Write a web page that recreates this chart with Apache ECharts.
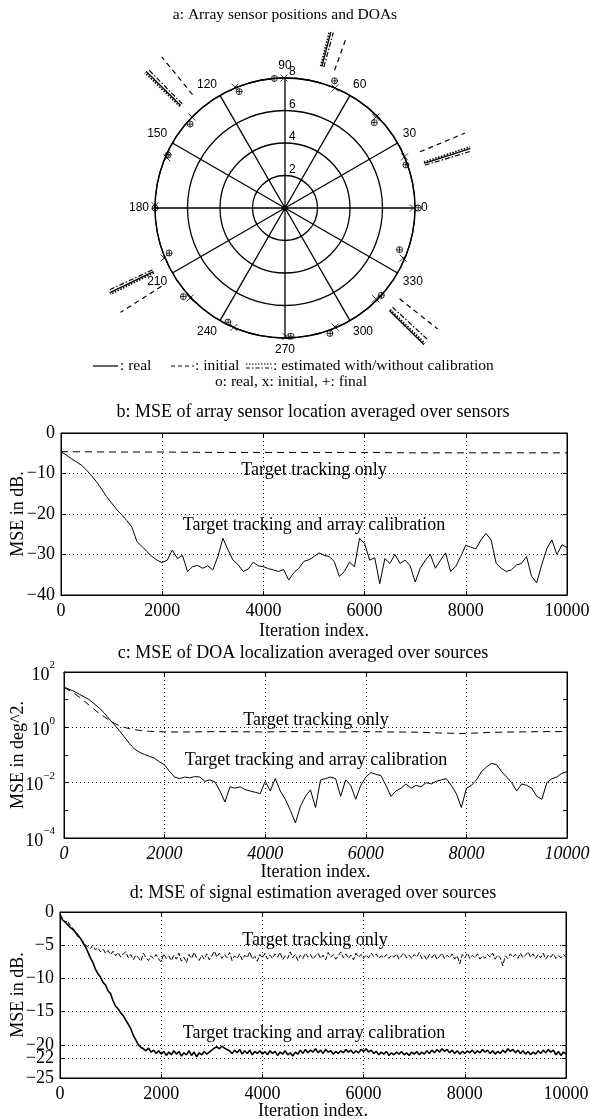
<!DOCTYPE html>
<html><head><meta charset="utf-8">
<script src="https://cdn.jsdelivr.net/npm/echarts@6/dist/echarts.min.js"></script>
<style>html,body{margin:0;padding:0;background:#fff}#c{width:590px;height:1119px}</style>
</head><body><div id="c"></div><script>
// ---------------- data ----------------
// a: sensors (angle in degrees, radius)
const sensorAngleReal  = [94.7, 68.7, 43.7, 19.6, 0, 340, 317.8, 289.7, 272.7, 243.4, 221.1, 201.2, 180, 155.6, 138.5, 111.5];
const sensorRadiusReal = [8.0, 8.4, 7.6, 7.9, 8.2, 7.5, 8.0, 8.2, 7.9, 7.85, 8.3, 7.65, 8.0, 7.9, 7.8, 7.7];
const sensorAngleInit  = [90.4, 67.4, 45.0, 23.2, 0, 337, 315, 292.8, 270.4, 246.8, 223.5, 202.5, 179, 157, 135.6, 112.5];
const sensorRadiusInit = [8.0, 8.0, 7.9, 8.0, 7.9, 7.9, 7.9, 7.95, 7.9, 8.0, 8.05, 8.05, 8.0, 7.9, 8.0, 8.05];
const sensorAngleFinal  = [94.8, 68.6, 43.8, 19.7, 0.1, 339.9, 317.9, 289.8, 272.6, 243.5, 221.0, 201.3, 180.1, 155.5, 138.6, 111.4];
const sensorRadiusFinal = [8.0, 8.4, 7.6, 7.9, 8.2, 7.5, 8.0, 8.2, 7.9, 7.85, 8.3, 7.65, 8.0, 7.9, 7.8, 7.7];
// a: DOAs (degrees)
const doaReal     = [75.4, 17.8, 315.5, 205.8, 135.5];
const doaInit     = [70.2, 22.6, 321.6, 212.4, 129.2];
const doaEstCal   = [75.9, 18.3, 316.0, 206.3, 136.0];
const doaEstNoCal = [74.6, 17.0, 317.3, 205.0, 134.6];
const doaRadiusInner = [9, 9, 9, 9, 9];
const doaRadiusOuter = [11.2, 12, 12, 12, 12];

// b: MSE of array sensor location (dB), every 100 iterations
const bStep = 100;
const bCalib = [-4.6,-5.4,-6.3,-7.1,-7.9,-9.1,-10.5,-12.0,-13.8,-15.7,
-17.3,-18.9,-20.2,-21.6,-23.2,-26.8,-28.0,-29.3,-30.5,-31.4,
-32.0,-31.4,-28.9,-31.0,-30.2,-34.2,-33.0,-32.7,-33.4,-32.8,
-33.8,-30.5,-26.0,-28.8,-31.4,-32.5,-34.2,-33.6,-31.9,-32.8,
-33.0,-33.5,-33.8,-34.2,-33.7,-36.3,-34.5,-33.4,-31.7,-31.3,
-30.5,-29.6,-30.2,-30.5,-31.7,-35.4,-34.2,-31.9,-33.0,-26.0,
-27.3,-31.4,-30.8,-37.2,-31.0,-32.2,-30.0,-32.2,-31.4,-32.8,
-36.8,-33.4,-31.4,-30.0,-33.4,-31.4,-29.6,-34.2,-33.0,-30.5,
-27.7,-28.2,-28.6,-26.4,-24.8,-26.4,-32.2,-33.4,-34.2,-33.8,
-32.6,-32.2,-30.5,-35.4,-37.0,-32.6,-28.6,-26.4,-30.0,-27.6,
-28.3];
const bTrackIter = [0,1000,2000,3000,4000,5000,6000,7000,8000,9000,10000];
const bTrack = [-4.6,-4.7,-4.7,-4.8,-4.8,-4.8,-4.8,-4.9,-4.9,-4.9,-4.9];

// c: MSE of DOA localization (deg^2), every 100 iterations
const cStep = 100;
const cCalib = [28,24,20,16,12.6,10,7.1,5.0,3.3,2.0,
1.26,0.76,0.45,0.26,0.166,0.126,0.105,0.089,0.076,0.056,
0.044,0.025,0.016,0.014,0.016,0.015,0.0166,0.016,0.0112,0.0126,
0.0107,0.005,0.002,0.0071,0.0063,0.0071,0.0056,0.005,0.0045,0.004,
0.0112,0.005,0.014,0.005,0.0025,0.001,0.00035,0.0014,0.0032,0.0055,
0.00126,0.0126,0.014,0.016,0.014,0.0032,0.0126,0.008,0.0025,0.008,
0.016,0.023,0.02,0.018,0.008,0.0032,0.005,0.0063,0.009,0.0063,
0.008,0.0071,0.01,0.009,0.0112,0.0126,0.014,0.008,0.004,0.00126,
0.0063,0.008,0.0126,0.025,0.037,0.05,0.045,0.025,0.016,0.01,
0.005,0.009,0.008,0.0063,0.0032,0.0025,0.01,0.014,0.016,0.022,
0.025];
const cTrackIter = [0,100,200,300,400,500,600,700,800,900,1000,1100,1200,1300,1400,1500,1600,1700,1800,1900,2000,
2500,3000,3500,4000,4500,5000,5500,6000,6500,7000,7500,8000,8500,9000,9500,10000];
const cTrack = [28,22,17,12.6,9,6.3,4.5,3.2,2.4,1.8,1.4,1.15,1.0,0.89,0.82,0.78,0.74,0.72,0.70,0.70,0.68,
0.68,0.70,0.69,0.68,0.70,0.69,0.68,0.70,0.68,0.67,0.62,0.60,0.66,0.68,0.70,0.70];

// d: MSE of signal estimation (dB), every 50 iterations
const dStep = 50;
const dTrack = [-0.4,-1.0,-1.6,-1.3,-2.1,-2.4,-2.9,-3.3,-3.9,-4.4,
-5.0,-5.2,-5.5,-5.0,-5.7,-5.4,-6.0,-5.6,-6.2,-5.8,
-6.4,-5.9,-6.6,-6.1,-6.8,-6.3,-6.0,-6.9,-6.4,-7.2,
-6.5,-6.9,-7.4,-6.2,-6.9,-7.3,-6.6,-7.0,-6.4,-7.1,
-7.5,
-6.3,-7.0,-6.6,-7.3,-6.5,-7.1,-6.2,-7.4,-6.8,-7.6,
-6.4,-7.0,-6.1,-6.9,-7.3,-6.5,-7.1,-6.3,-7.2,-6.6,
-5.9,-6.8,-6.2,-7.0,-6.4,-6.9,-6.1,-7.3,-6.6,-7.0,
-6.3,-7.2,-6.5,-6.9,-6.0,-7.1,-6.7,-7.4,-6.4,-6.9,
-6.2,-7.1,-6.5,-7.0,-6.3,-6.8,-6.1,-7.2,-6.6,-7.0,
-6.0,-6.9,-6.4,-7.3,-6.5,-7.0,-6.2,-6.8,-6.4,-7.1,
-6.6,-6.2,-7.0,-6.5,-7.2,-6.1,-6.8,-6.4,-7.1,-6.6,
-6.0,-6.9,-6.3,-7.0,-6.5,-7.2,-6.2,-6.8,-6.4,-7.0,
-6.5,-6.9,-6.2,-6.7,-6.3,-7.0,-6.6,-6.9,-6.4,-7.0,
-6.5,-6.8,-6.3,-7.1,-6.6,-6.2,-6.9,-6.5,-7.0,-6.4,
-6.8,-6.1,-7.0,-6.6,-7.2,-6.4,-6.9,-6.3,-7.1,-6.7,
-6.2,-7.0,-6.5,-6.9,-6.3,-7.1,-6.6,-7.8,-6.4,-6.9,
-6.2,-7.0,-6.5,-6.9,-6.3,-7.1,-6.6,-7.0,-6.4,-6.8,
-6.2,-7.1,-6.5,-6.9,-8.1,-6.6,-7.0,-6.3,-6.8,-6.4,
-7.0,-6.2,-6.9,-6.5,-6.0,-6.8,-6.3,-7.0,-6.4,-6.9,
-6.2,-7.1,-6.5,-6.8,-6.3,-7.0,-6.6,-6.9,-6.4,-6.8];
const dCalib = [-0.3,-1.2,-1.5,-1.9,-2.3,-2.6,-3.0,-3.6,-3.9,-4.6,
-5.2,-6.0,-6.9,-7.6,-8.6,-9.3,-9.8,-10.6,-11.0,-11.9,
-12.3,-13.4,-14.2,-14.6,-15.2,-15.6,-16.3,-16.9,-17.6,-18.6,
-19.3,-20.0,-20.4,-20.6,-20.9,-20.5,-21.1,-20.8,-21.3,-20.9,
-21.4,
-21.0,-21.6,-21.1,-21.5,-20.9,-21.4,-21.0,-21.7,-21.2,-21.5,
-20.9,-21.6,-21.1,-21.8,-21.2,-21.5,-21.0,-21.4,-21.1,-20.8,
-20.5,-20.3,-20.6,-20.2,-20.5,-20.7,-20.9,-21.3,-20.8,-21.2,
-20.7,-21.4,-20.9,-21.3,-20.8,-21.5,-21.0,-21.3,-20.9,-21.4,
-21.0,-21.5,-20.9,-21.3,-21.0,-21.6,-21.1,-21.4,-20.9,-21.5,
-21.2,-21.7,-21.1,-21.4,-20.8,-21.3,-20.7,-21.2,-20.8,-21.1,
-20.6,-21.2,-20.8,-21.3,-20.7,-21.1,-20.9,-21.4,-21.0,-21.3,
-20.9,-21.2,-20.7,-21.1,-20.8,-21.3,-20.9,-21.2,-20.7,-21.0,
-20.6,-21.1,-20.8,-21.3,-21.0,-21.5,-21.1,-21.4,-21.0,-21.6,
-21.2,-21.5,-21.1,-21.4,-21.0,-21.5,-21.2,-21.6,-21.1,-21.4,
-21.0,-21.5,-21.1,-21.4,-20.9,-21.3,-20.8,-21.2,-20.7,-21.1,
-20.6,-21.0,-20.7,-21.2,-20.8,-21.3,-20.9,-21.4,-21.0,-21.3,
-20.9,-21.2,-20.8,-21.3,-20.9,-21.2,-20.7,-21.1,-20.8,-21.3,
-20.9,-21.4,-21.0,-21.3,-20.8,-21.2,-20.6,-21.0,-20.7,-21.2,
-20.8,-21.3,-20.9,-21.4,-21.0,-21.5,-21.1,-21.4,-20.9,-21.3,
-20.8,-21.2,-20.7,-21.1,-20.8,-21.5,-21.0,-21.6,-21.1,-21.4];

// tick values
const dTicks = [0, -5, -10, -15, -20, -22, -25];
const cLabelTicks = [1e-4, 1e-2, 1, 100];
const cAllTicks = [1e-4, 1e-3, 1e-2, 1e-1, 1, 10, 100];
const cMinorTicks = [1e-3, 1e-1, 10];

// ---------------- chart ----------------
const serif = '"Liberation Serif", "Times New Roman", serif';
const sans = '"Liberation Sans", Arial, sans-serif';
const K = '#000';
const pairs = (arr, step) => arr.map((v, i) => [i * step, v]);
const zipXY = (xs, ys) => xs.map((x, i) => [x, ys[i]]);
const zipPolar = (r, a) => a.map((ang, i) => [r[i], ang]);
const minus = v => (v < 0 ? '\u2212' + Math.abs(v) : String(v));

const chart = echarts.init(document.getElementById('c'), null, {renderer: 'canvas'});

function doaSeries(angles, lineStyle) {
  return angles.map((a, i) => ({
    type: 'line', coordinateSystem: 'polar', polarIndex: 1,
    data: [[doaRadiusInner[i], a], [doaRadiusOuter[i], a]],
    symbol: 'none', silent: true, clip: false, z: 4,
    lineStyle: Object.assign({color: K, width: 1.2}, lineStyle)
  }));
}

const lbl = {fontFamily: serif, fontSize: 18, color: K};
const nameStyle = {fontFamily: serif, fontSize: 18, color: K};
function xAxes(gridIndex, italic, nameGap) {
  return [
    {type: 'value', gridIndex, position: 'bottom', min: 0, max: 10000, interval: 2000,
     name: 'Iteration index.', nameLocation: 'middle', nameGap: nameGap, nameMoveOverlap: false,
     nameTextStyle: nameStyle,
     axisLine: {show: true, onZero: false, lineStyle: {color: K, width: 1}},
     axisTick: {show: true, inside: true, length: 4, lineStyle: {color: K}},
     axisLabel: Object.assign({margin: 7, fontStyle: italic ? 'italic' : 'normal', formatter: v => String(v)}, lbl),
     splitLine: {show: true, lineStyle: {color: K, width: 1, type: [1, 3]}}},
    {type: 'value', gridIndex, position: 'top', min: 0, max: 10000, interval: 2000,
     axisLine: {show: true, onZero: false, lineStyle: {color: K, width: 1}},
     axisTick: {show: true, inside: true, length: 4, lineStyle: {color: K}},
     axisLabel: {show: false}, splitLine: {show: false}}
  ];
}

const option = {
  animation: false,
  backgroundColor: '#fff',
  textStyle: {fontFamily: serif, color: K},
  polar: [
    {center: [285, 208], radius: 130},
    {center: [285, 208], radius: 195}
  ],
  angleAxis: [
    // starts at the top so that the radius labels run up the 90 degree spoke; values still read counter-clockwise from the right
    {polarIndex: 0, type: 'value', min: 90, max: 450, interval: 30, startAngle: 90, clockwise: false,
     axisLine: {show: true, lineStyle: {color: K, width: 1.3}},
     axisTick: {show: false},
     axisLabel: {formatter: v => (v === 450 ? '' : String(v % 360)), fontFamily: sans, fontSize: 12, color: K, margin: 6},
     splitLine: {show: true, lineStyle: {color: K, width: 1.3}}},
    {polarIndex: 1, type: 'value', min: 0, max: 360, startAngle: 0, clockwise: false, show: false,
     axisLine: {show: false}, axisLabel: {show: false}, splitLine: {show: false}, axisTick: {show: false}}
  ],
  radiusAxis: [
    {polarIndex: 0, type: 'value', min: 0, max: 8, interval: 2,
     axisLine: {show: false}, axisTick: {show: false},
     axisLabel: {formatter: v => (v === 0 ? '' : String(v)), margin: -4, align: 'left', verticalAlign: 'bottom',
                 fontFamily: sans, fontSize: 12, color: K},
     splitLine: {show: true, lineStyle: {color: K, width: 1.3}}},
    {polarIndex: 1, type: 'value', min: 0, max: 12, show: false,
     axisLine: {show: false}, axisLabel: {show: false}, splitLine: {show: false}, axisTick: {show: false}}
  ],
  grid: [
    {left: 61, top: 433, width: 506, height: 162, show: true, borderColor: K, borderWidth: 1, backgroundColor: 'transparent', outerBoundsMode: 'none', containLabel: false},
    {left: 64, top: 672, width: 503, height: 166, show: true, borderColor: K, borderWidth: 1, backgroundColor: 'transparent', outerBoundsMode: 'none', containLabel: false},
    {left: 60, top: 912, width: 506, height: 166, show: true, borderColor: K, borderWidth: 1, backgroundColor: 'transparent', outerBoundsMode: 'none', containLabel: false}
  ],
  xAxis: [].concat(xAxes(0, false, 27), xAxes(1, true, 25), xAxes(2, false, 24)),
  yAxis: [
    // b
    {type: 'value', gridIndex: 0, position: 'left', min: -40, max: 0, interval: 10,
     name: 'MSE in dB.', nameLocation: 'middle', nameGap: 34, nameRotate: 90, nameMoveOverlap: false,
     nameTextStyle: nameStyle,
     axisLine: {show: true, onZero: false, lineStyle: {color: K}},
     axisTick: {show: true, inside: true, length: 4, lineStyle: {color: K}},
     axisLabel: Object.assign({margin: 6, formatter: minus}, lbl),
     splitLine: {show: true, lineStyle: {color: K, width: 1, type: [1, 3]}}},
    {type: 'value', gridIndex: 0, position: 'right', min: -40, max: 0, interval: 10,
     axisLine: {show: true, onZero: false, lineStyle: {color: K}},
     axisTick: {show: true, inside: true, length: 4, lineStyle: {color: K}},
     axisLabel: {show: false}, splitLine: {show: false}},
    // c
    {type: 'log', logBase: 10, gridIndex: 1, position: 'left', min: 1e-4, max: 100,
     name: 'MSE in deg^2.', nameLocation: 'middle', nameGap: 37, nameRotate: 90, nameMoveOverlap: false,
     nameTextStyle: nameStyle,
     axisLine: {show: true, onZero: false, lineStyle: {color: K}},
     axisTick: {show: true, inside: true, length: 4, lineStyle: {color: K}, customValues: cLabelTicks},
     axisLabel: {customValues: cLabelTicks, margin: 9,
       formatter: v => { const e = Math.round(Math.log10(v)); return '{b|10}{s|' + (e < 0 ? '\u2212' : '') + Math.abs(e) + '}'; },
       rich: {b: {fontFamily: serif, fontSize: 18, color: K, padding: [6, 0, 0, 0]},
              s: {fontFamily: serif, fontSize: 11, color: K, verticalAlign: 'top'}}},
     splitLine: {show: true, lineStyle: {color: K, width: 1, type: [1, 3]}}},
    {type: 'log', logBase: 10, gridIndex: 1, position: 'right', min: 1e-4, max: 100,
     axisLine: {show: true, onZero: false, lineStyle: {color: K}},
     axisTick: {show: true, inside: true, length: 4, lineStyle: {color: K}, customValues: cAllTicks},
     axisLabel: {show: false, customValues: cAllTicks}, splitLine: {show: false}},
    {type: 'log', logBase: 10, gridIndex: 1, position: 'left', min: 1e-4, max: 100,
     axisLine: {show: false},
     axisTick: {show: true, inside: true, length: 4, lineStyle: {color: K}, customValues: cMinorTicks},
     axisLabel: {show: false, customValues: cMinorTicks}, splitLine: {show: false}},
    // d
    {type: 'value', gridIndex: 2, position: 'left', min: -25, max: 0, interval: 5,
     name: 'MSE in dB.', nameLocation: 'middle', nameGap: 33, nameRotate: 90, nameMoveOverlap: false,
     nameTextStyle: nameStyle,
     axisLine: {show: true, onZero: false, lineStyle: {color: K}},
     axisTick: {show: true, inside: true, length: 4, lineStyle: {color: K}, customValues: dTicks},
     axisLabel: Object.assign({margin: 6, formatter: minus, customValues: dTicks}, lbl),
     splitLine: {show: true, lineStyle: {color: K, width: 1, type: [1, 3]}}},
    {type: 'value', gridIndex: 2, position: 'right', min: -25, max: 0, interval: 5,
     axisLine: {show: true, onZero: false, lineStyle: {color: K}},
     axisTick: {show: true, inside: true, length: 4, lineStyle: {color: K}, customValues: dTicks},
     axisLabel: {show: false, customValues: dTicks}, splitLine: {show: false}}
  ],
  series: [].concat(
    doaSeries(doaReal, {type: 'solid', width: 1.3}),
    doaSeries(doaInit, {type: [5, 4]}),
    doaSeries(doaEstCal, {type: [1.5, 1.5], width: 1.6}),
    doaSeries(doaEstNoCal, {type: [5, 2, 1.5, 2]}),
    [
      {type: 'scatter', coordinateSystem: 'polar', polarIndex: 1, clip: false, silent: true, z: 6,
       data: zipPolar(sensorRadiusReal, sensorAngleReal), symbol: 'circle', symbolSize: 6,
       itemStyle: {color: 'rgba(0,0,0,0)', borderColor: K, borderWidth: 1}},
      {type: 'scatter', coordinateSystem: 'polar', polarIndex: 1, clip: false, silent: true, z: 6,
       data: zipPolar(sensorRadiusFinal, sensorAngleFinal), symbol: 'path://M5 0L5 10M0 5L10 5', symbolSize: 6,
       itemStyle: {color: 'rgba(0,0,0,0)', borderColor: K, borderWidth: 1}},
      {type: 'scatter', coordinateSystem: 'polar', polarIndex: 1, clip: false, silent: true, z: 6,
       data: zipPolar(sensorRadiusInit, sensorAngleInit), symbol: 'path://M0 0L10 10M10 0L0 10', symbolSize: 7,
       itemStyle: {color: 'rgba(0,0,0,0)', borderColor: K, borderWidth: 1}},
      // b
      {type: 'line', xAxisIndex: 0, yAxisIndex: 0, data: pairs(bCalib, bStep), symbol: 'none',
       lineStyle: {color: K, width: 1}},
      {type: 'line', xAxisIndex: 0, yAxisIndex: 0, data: zipXY(bTrackIter, bTrack), symbol: 'none',
       lineStyle: {color: K, width: 1, type: [7, 5]}},
      // c
      {type: 'line', xAxisIndex: 2, yAxisIndex: 2, data: pairs(cCalib, cStep), symbol: 'none',
       lineStyle: {color: K, width: 1}},
      {type: 'line', xAxisIndex: 2, yAxisIndex: 2, data: zipXY(cTrackIter, cTrack), symbol: 'none',
       lineStyle: {color: K, width: 1, type: [7, 5]}},
      // d
      {type: 'line', xAxisIndex: 4, yAxisIndex: 5, data: pairs(dTrack, dStep), symbol: 'none',
       lineStyle: {color: K, width: 1, type: [5, 2]}},
      {type: 'line', xAxisIndex: 4, yAxisIndex: 5, data: pairs(dCalib, dStep), symbol: 'none',
       lineStyle: {color: K, width: 1.6}}
    ]
  ),
  graphic: [
    {type: 'text', x: 285, y: 15, style: {text: 'a: Array sensor positions and DOAs', fontFamily: serif, fontSize: 15.5, fill: K, align: 'center', verticalAlign: 'middle'}},
    // legend row 1
    {type: 'line', shape: {x1: 93, y1: 366, x2: 118, y2: 366}, style: {stroke: K, lineWidth: 1.2}},
    {type: 'text', x: 120, y: 366, style: {text: ': real', fontFamily: serif, fontSize: 15.5, fill: K, align: 'left', verticalAlign: 'middle'}},
    {type: 'line', shape: {x1: 171, y1: 366, x2: 194, y2: 366}, style: {stroke: K, lineWidth: 1.2, lineDash: [4, 3]}},
    {type: 'text', x: 195, y: 366, style: {text: ': initial', fontFamily: serif, fontSize: 15.5, fill: K, align: 'left', verticalAlign: 'middle'}},
    {type: 'line', shape: {x1: 246, y1: 364, x2: 272, y2: 364}, style: {stroke: K, lineWidth: 1, lineDash: [1.5, 1.5]}},
    {type: 'line', shape: {x1: 246, y1: 368, x2: 272, y2: 368}, style: {stroke: K, lineWidth: 1, lineDash: [4, 2, 1.5, 2]}},
    {type: 'text', x: 273, y: 366, style: {text: ': estimated with/without calibration', fontFamily: serif, fontSize: 15.5, fill: K, align: 'left', verticalAlign: 'middle'}},
    {type: 'text', x: 291, y: 382, style: {text: 'o: real, x: initial, +: final', fontFamily: serif, fontSize: 15.5, fill: K, align: 'center', verticalAlign: 'middle'}},
    // subplot titles
    {type: 'text', x: 313, y: 412, style: {text: 'b: MSE of array sensor location averaged over sensors', fontFamily: serif, fontSize: 18, fill: K, align: 'center', verticalAlign: 'middle'}},
    {type: 'text', x: 303, y: 653, style: {text: 'c: MSE of DOA localization averaged over sources', fontFamily: serif, fontSize: 18, fill: K, align: 'center', verticalAlign: 'middle'}},
    {type: 'text', x: 313, y: 893, style: {text: 'd: MSE of signal estimation averaged over sources', fontFamily: serif, fontSize: 18, fill: K, align: 'center', verticalAlign: 'middle'}},
    // annotations
    {type: 'text', x: 314, y: 470, style: {text: 'Target tracking only', fontFamily: serif, fontSize: 18, fill: K, align: 'center', verticalAlign: 'middle'}},
    {type: 'text', x: 314, y: 525, style: {text: 'Target tracking and array calibration', fontFamily: serif, fontSize: 18, fill: K, align: 'center', verticalAlign: 'middle'}},
    {type: 'text', x: 316, y: 720, style: {text: 'Target tracking only', fontFamily: serif, fontSize: 18, fill: K, align: 'center', verticalAlign: 'middle'}},
    {type: 'text', x: 316, y: 760, style: {text: 'Target tracking and array calibration', fontFamily: serif, fontSize: 18, fill: K, align: 'center', verticalAlign: 'middle'}},
    {type: 'text', x: 315, y: 940, style: {text: 'Target tracking only', fontFamily: serif, fontSize: 18, fill: K, align: 'center', verticalAlign: 'middle'}},
    {type: 'text', x: 314, y: 1033, style: {text: 'Target tracking and array calibration', fontFamily: serif, fontSize: 18, fill: K, align: 'center', verticalAlign: 'middle'}}
  ]
};
chart.setOption(option);
</script></body></html>
